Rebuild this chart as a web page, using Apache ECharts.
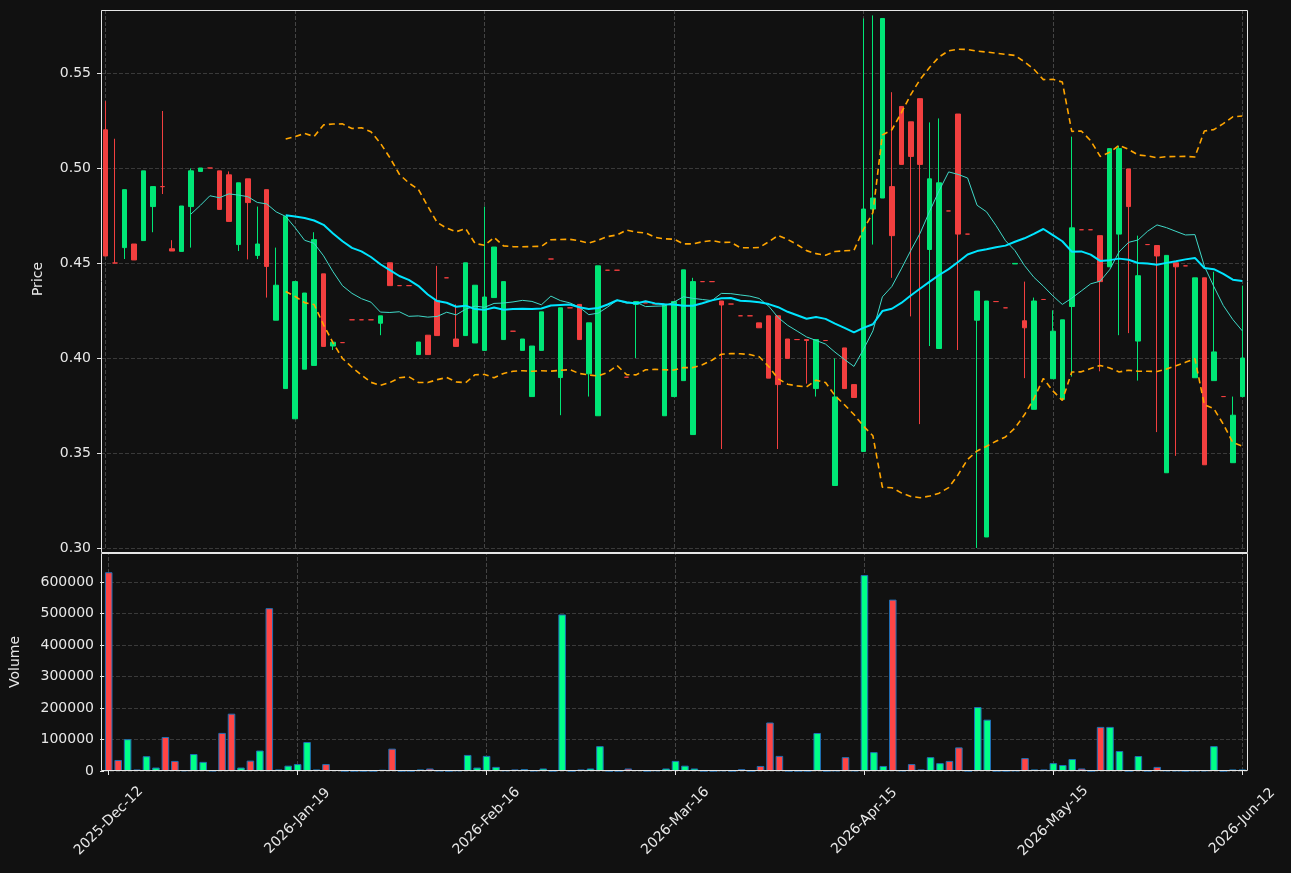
<!DOCTYPE html>
<html>
<head>
<meta charset="utf-8">
<script src="https://cdn.jsdelivr.net/npm/echarts@6/dist/echarts.min.js"></script>
<style>
html,body{margin:0;padding:0;background:#111111;}
#chart{width:1291px;height:873px;}
</style>
</head>
<body>
<div id="chart"></div>
<script>
const dates = [
'2025-Dec-12','2025-Dec-15','2025-Dec-16','2025-Dec-17','2025-Dec-18','2025-Dec-19','2025-Dec-22','2025-Dec-23','2025-Dec-29','2025-Dec-30',
'2026-Jan-05','2026-Jan-06','2026-Jan-07','2026-Jan-08','2026-Jan-09','2026-Jan-12','2026-Jan-13','2026-Jan-14','2026-Jan-15','2026-Jan-16',
'2026-Jan-19','2026-Jan-20','2026-Jan-21','2026-Jan-22','2026-Jan-23','2026-Jan-26','2026-Jan-27','2026-Jan-28','2026-Jan-29','2026-Jan-30',
'2026-Feb-02','2026-Feb-03','2026-Feb-04','2026-Feb-05','2026-Feb-06','2026-Feb-09','2026-Feb-10','2026-Feb-11','2026-Feb-12','2026-Feb-13',
'2026-Feb-16','2026-Feb-17','2026-Feb-18','2026-Feb-19','2026-Feb-20','2026-Feb-23','2026-Feb-24','2026-Feb-25','2026-Feb-26','2026-Feb-27',
'2026-Mar-02','2026-Mar-03','2026-Mar-04','2026-Mar-05','2026-Mar-06','2026-Mar-09','2026-Mar-10','2026-Mar-11','2026-Mar-12','2026-Mar-13',
'2026-Mar-16','2026-Mar-17','2026-Mar-18','2026-Mar-19','2026-Mar-20','2026-Mar-23','2026-Mar-24','2026-Mar-25','2026-Mar-26','2026-Mar-27',
'2026-Mar-30','2026-Mar-31','2026-Apr-01','2026-Apr-02','2026-Apr-07','2026-Apr-08','2026-Apr-09','2026-Apr-10','2026-Apr-13','2026-Apr-14',
'2026-Apr-15','2026-Apr-16','2026-Apr-17','2026-Apr-20','2026-Apr-21','2026-Apr-22','2026-Apr-23','2026-Apr-24','2026-Apr-27','2026-Apr-28',
'2026-Apr-29','2026-Apr-30','2026-May-05','2026-May-06','2026-May-07','2026-May-08','2026-May-11','2026-May-12','2026-May-13','2026-May-14',
'2026-May-15','2026-May-18','2026-May-19','2026-May-20','2026-May-21','2026-May-22','2026-May-25','2026-May-26','2026-May-27','2026-May-28',
'2026-May-29','2026-Jun-01','2026-Jun-02','2026-Jun-03','2026-Jun-04','2026-Jun-05','2026-Jun-08','2026-Jun-09','2026-Jun-10','2026-Jun-11',
'2026-Jun-12'];

const opens = [
0.5201,0.4500,0.4581,0.4600,0.4618,0.4797,0.4902,0.4575,0.4561,0.4797,
0.4982,0.5000,0.4985,0.4964,0.4597,0.4943,0.4540,0.4886,0.4199,0.3839,
0.3680,0.3941,0.3961,0.4443,0.4063,0.4081,0.4201,0.4201,0.4201,0.4183,
0.4501,0.4381,0.4381,0.4018,0.4120,0.4303,0.4422,0.4100,0.4118,0.4079,
0.4040,0.4318,0.4097,0.4141,0.4040,0.3797,0.4040,0.4521,0.3897,0.4264,
0.4282,0.3917,0.3696,0.4462,0.4462,0.3899,0.4282,0.4290,0.4285,0.3696,
0.3797,0.3881,0.3597,0.4402,0.4402,0.4300,0.4284,0.4222,0.4222,0.4185,
0.4222,0.4222,0.4100,0.4097,0.4097,0.3839,0.4092,0.3329,0.4053,0.3860,
0.3508,0.4784,0.4842,0.4902,0.5324,0.5243,0.5365,0.4571,0.4050,0.4774,
0.5284,0.4652,0.4199,0.3058,0.4297,0.4264,0.4495,0.4196,0.3730,0.4308,
0.3891,0.3782,0.4271,0.4675,0.4675,0.4644,0.4480,0.4652,0.4995,0.4089,
0.4597,0.4592,0.3396,0.4501,0.4485,0.3896,0.4422,0.3881,0.3797,0.3449,
0.3797];

const closes = [
0.4537,0.4500,0.4886,0.4516,0.4985,0.4902,0.4902,0.4563,0.4800,0.4985,
0.5000,0.5000,0.4782,0.4719,0.4922,0.4818,0.4600,0.4482,0.4383,0.4745,
0.4402,0.4342,0.4623,0.4061,0.4083,0.4081,0.4201,0.4201,0.4201,0.4222,
0.4381,0.4381,0.4381,0.4084,0.4018,0.4118,0.4422,0.4061,0.4501,0.4383,
0.4321,0.4584,0.4402,0.4141,0.4100,0.4063,0.4243,0.4521,0.4264,0.4264,
0.4097,0.4185,0.4485,0.4462,0.4462,0.3899,0.4297,0.4290,0.4285,0.4282,
0.4297,0.4464,0.4402,0.4402,0.4402,0.4279,0.4284,0.4222,0.4222,0.4159,
0.3894,0.3860,0.3998,0.4097,0.4092,0.4097,0.4092,0.3795,0.3839,0.3792,
0.4784,0.4842,0.5787,0.4644,0.5019,0.5061,0.5019,0.4943,0.4922,0.4774,
0.4652,0.4652,0.4352,0.4300,0.4297,0.4264,0.4498,0.4159,0.4300,0.4308,
0.4141,0.4201,0.4685,0.4675,0.4675,0.4402,0.5102,0.5102,0.4797,0.4433,
0.4597,0.4537,0.4540,0.4480,0.4485,0.4422,0.3438,0.4032,0.3797,0.3699,
0.4000];

const lows = [
0.4537,0.4500,0.4521,0.4516,0.4618,0.4662,0.4863,0.4563,0.4561,0.4581,
0.4982,0.5000,0.4782,0.4719,0.4563,0.4519,0.4521,0.4318,0.4199,0.3839,
0.3680,0.3941,0.3961,0.4061,0.4042,0.4081,0.4201,0.4201,0.4201,0.4120,
0.4381,0.4381,0.4381,0.4018,0.4018,0.4118,0.4422,0.4061,0.4118,0.4079,
0.4040,0.4318,0.4097,0.4141,0.4040,0.3797,0.4040,0.4521,0.3699,0.4264,
0.4097,0.3797,0.3696,0.4462,0.4462,0.3899,0.4000,0.4290,0.4285,0.3696,
0.3797,0.3881,0.3597,0.4402,0.4402,0.3521,0.4284,0.4222,0.4222,0.4159,
0.3894,0.3521,0.3998,0.4097,0.3865,0.3797,0.4092,0.3329,0.3839,0.3792,
0.3508,0.4597,0.4842,0.4422,0.5019,0.4219,0.3652,0.4063,0.4050,0.4774,
0.4042,0.4652,0.3000,0.3058,0.4297,0.4264,0.4495,0.3894,0.3730,0.4308,
0.3891,0.3782,0.3902,0.4675,0.4675,0.3930,0.4480,0.4120,0.4131,0.3881,
0.4597,0.3610,0.3396,0.3485,0.4485,0.3896,0.3438,0.3881,0.3797,0.3449,
0.3797];

const highs = [
0.5352,0.5154,0.4886,0.4600,0.4985,0.4902,0.5300,0.4620,0.4800,0.4998,
0.5000,0.5000,0.4985,0.4982,0.4922,0.4943,0.4797,0.4886,0.4581,0.4745,
0.4402,0.4342,0.4662,0.4443,0.4083,0.4081,0.4201,0.4201,0.4201,0.4222,
0.4501,0.4381,0.4381,0.4084,0.4120,0.4485,0.4422,0.4282,0.4501,0.4383,
0.4797,0.4584,0.4402,0.4141,0.4100,0.4063,0.4243,0.4521,0.4264,0.4264,
0.4282,0.4185,0.4485,0.4462,0.4462,0.3899,0.4297,0.4290,0.4285,0.4282,
0.4297,0.4464,0.4422,0.4402,0.4402,0.4300,0.4284,0.4222,0.4222,0.4185,
0.4222,0.4222,0.4100,0.4097,0.4097,0.4097,0.4092,0.3998,0.4053,0.3860,
0.5787,0.5803,0.5787,0.5399,0.5324,0.5243,0.5365,0.5240,0.5261,0.4774,
0.5284,0.4652,0.4352,0.4300,0.4297,0.4264,0.4498,0.4402,0.4318,0.4308,
0.4251,0.4201,0.5165,0.4675,0.4675,0.4644,0.5102,0.5118,0.4995,0.4644,
0.4597,0.4592,0.4540,0.4501,0.4485,0.4422,0.4422,0.4454,0.3797,0.3797,
0.4381];

const volumes = [
631000,35000,101000,5000,47000,11000,108000,32000,2000,54000,
29000,1000,121000,182000,11000,33000,65000,517000,5000,17000,
22000,92000,5000,22000,3000,0,0,0,0,4000,
71000,0,0,5000,8000,1000,0,2000,51000,11000,
48000,13000,2000,5000,6000,1000,8000,0,497000,0,
5000,8000,79000,0,0,8000,3000,0,2000,8000,
32000,17000,8000,0,0,2000,0,6000,0,16000,
154000,48000,0,0,0,120600,0,1500,44000,1500,
622000,60000,16000,544000,1500,22000,5000,44000,25000,32000,
75000,0,203000,163000,0,0,1500,41000,5000,5000,
25000,19000,38000,8000,0,140000,140000,63500,0,47600,
0,13000,1500,1500,0,1500,1500,79000,0,5000,
5000];

const tickIdx = [0,20,40,60,80,100,120];

const UP = '#00e676', DOWN = '#f23f3f';
const VUP = '#00ff88', VDOWN = '#ff4545';

function rollMean(arr, n){
  return arr.map((v,i)=>{
    if(i < n-1) return null;
    let s=0; for(let k=i-n+1;k<=i;k++) s+=arr[k];
    return +(s/n).toFixed(5);
  });
}
function rollStd(arr, n){
  return arr.map((v,i)=>{
    if(i < n-1) return null;
    let s=0; for(let k=i-n+1;k<=i;k++) s+=arr[k];
    const m=s/n; let q=0;
    for(let k=i-n+1;k<=i;k++) q+=(arr[k]-m)*(arr[k]-m);
    return Math.sqrt(q/(n-1));
  });
}
const ma10 = rollMean(closes,10);
const ma20 = rollMean(closes,20);
const sd20 = rollStd(closes,20);
const bbUp = ma20.map((m,i)=> m===null?null:+(m+2*sd20[i]).toFixed(5));
const bbLo = ma20.map((m,i)=> m===null?null:+(m-2*sd20[i]).toFixed(5));

const candleData = closes.map((c,i)=>{
  const col = c > opens[i] ? UP : DOWN;
  return {value:[opens[i], c, lows[i], highs[i]],
    itemStyle:{color:col,color0:col,borderColor:col,borderColor0:col}};
});
const volData = volumes.map((v,i)=>({value:v,
  itemStyle:{color: closes[i] > opens[i] ? VUP : VDOWN}}));

const vLines = {
  z:1,
  symbol:['none','none'], silent:true, animation:false,
  label:{show:false},
  lineStyle:{color:'#444444', type:'dashed', width:1},
  data: tickIdx.map(i=>({xAxis: dates[i]}))
};
const emptyLine = dates.map(()=>null);

const font = 'DejaVu Sans';
const txt = '#e8e8e8';
const frame = '#e6e6e6';

const chart = echarts.init(document.getElementById('chart'), null, {renderer:'canvas'});
chart.setOption({
  backgroundColor:'#111111',
  animation:false,
  textStyle:{fontFamily:font},
  grid:[
    {left:101, right:44, top:10, height:538, show:false},
    {left:101, right:44, top:553, height:218, show:false}
  ],
  graphic:[
    {type:'rect', z:100, silent:true, shape:{x:101.5, y:10.5, width:1146, height:542},
     style:{fill:'none', stroke:frame, lineWidth:1}},
    {type:'rect', z:100, silent:true, shape:{x:101.5, y:553.5, width:1146, height:217},
     style:{fill:'none', stroke:frame, lineWidth:1}}
  ],
  xAxis:[
    {type:'category', gridIndex:0, data:dates, boundaryGap:true,
     axisLine:{show:false}, axisTick:{show:false}, axisLabel:{show:false}, splitLine:{show:false}},
    {type:'category', gridIndex:1, data:dates, boundaryGap:true,
     axisLine:{show:false},
     axisTick:{show:true, alignWithLabel:true, interval:19, length:4, lineStyle:{color:frame}},
     axisLabel:{interval:19, rotate:45, color:txt, fontSize:14, fontFamily:font, margin:50,
       align:'center', verticalAlign:'middle'},
     splitLine:{show:false}}
  ],
  yAxis:[
    {type:'value', gridIndex:0, min:0.30, max:0.58316, interval:0.05,
     name:'Price', nameLocation:'middle', nameGap:56,
     nameTextStyle:{color:txt, fontSize:14, fontFamily:font},
     axisLine:{show:false},
     axisTick:{show:true, length:4, lineStyle:{color:frame}},
     axisLabel:{color:txt, fontSize:14, fontFamily:font, margin:10, showMaxLabel:false,
       formatter:v=>v.toFixed(2)},
     splitLine:{show:true, lineStyle:{color:'#3a3a3a', type:'dashed', width:1}}},
    {type:'value', gridIndex:1, min:0, max:692000, interval:100000,
     name:'Volume', nameLocation:'middle', nameGap:82,
     nameTextStyle:{color:txt, fontSize:14, fontFamily:font},
     axisLine:{show:false},
     axisTick:{show:true, length:4, lineStyle:{color:frame}},
     axisLabel:{color:txt, fontSize:14, fontFamily:font, margin:10, showMaxLabel:false,
       formatter:v=>String(v)},
     splitLine:{show:true, lineStyle:{color:'#3a3a3a', type:'dashed', width:1}}}
  ],
  series:[
    {type:'line', xAxisIndex:0, yAxisIndex:0, data:emptyLine, z:0, showSymbol:false,
     lineStyle:{opacity:0}, markLine:vLines},
    {type:'line', xAxisIndex:1, yAxisIndex:1, data:emptyLine, z:0, showSymbol:false,
     lineStyle:{opacity:0}, markLine:vLines},
    {type:'candlestick', xAxisIndex:0, yAxisIndex:0, data:candleData, barWidth:5, z:3,
     itemStyle:{borderWidth:1}},
    {type:'line', xAxisIndex:0, yAxisIndex:0, data:bbUp, showSymbol:false, z:4,
     lineStyle:{color:'#ffa500', width:1.6, type:[6,4]}},
    {type:'line', xAxisIndex:0, yAxisIndex:0, data:bbLo, showSymbol:false, z:4,
     lineStyle:{color:'#ffa500', width:1.6, type:[6,4]}},
    {type:'line', xAxisIndex:0, yAxisIndex:0, data:ma10, showSymbol:false, z:4,
     lineStyle:{color:'#3fd9c8', width:1}},
    {type:'line', xAxisIndex:0, yAxisIndex:0, data:ma20, showSymbol:false, z:4,
     lineStyle:{color:'#00e5ff', width:2}},
    {type:'bar', xAxisIndex:1, yAxisIndex:1, data:volData, barWidth:'80%', z:3,
     itemStyle:{borderColor:'#1f6fb4', borderWidth:1}}
  ]
});
</script>
</body>
</html>
